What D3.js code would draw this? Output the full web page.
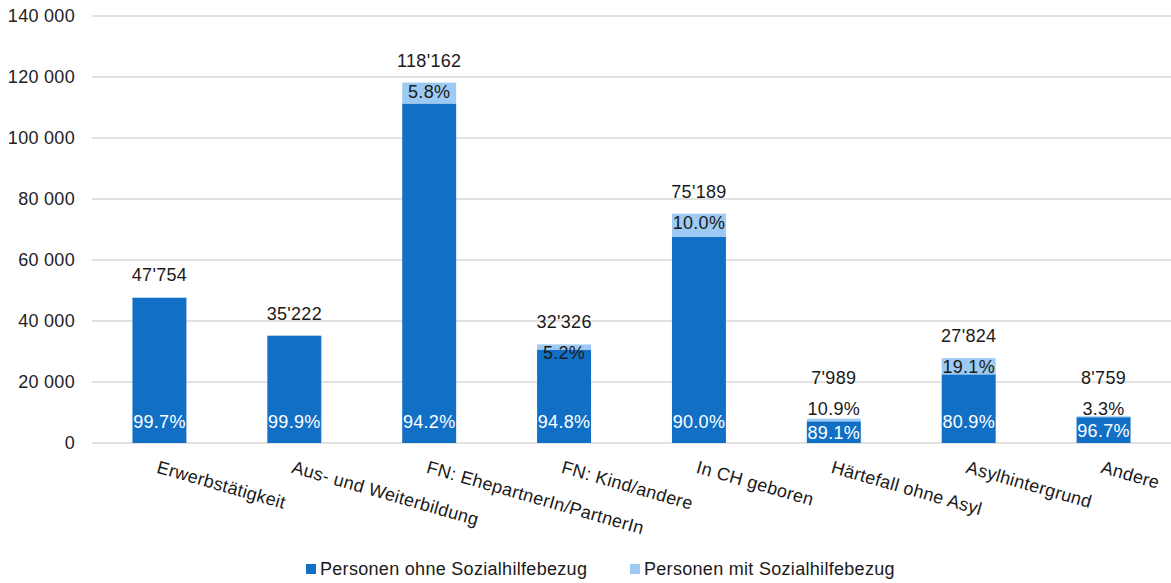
<!DOCTYPE html>
<html>
<head>
<meta charset="utf-8">
<script src="https://cdn.jsdelivr.net/npm/d3@7"></script>
<style>
  body { margin: 0; background: #fff; }
  text { font-family: "Liberation Sans", Arial, sans-serif; letter-spacing: 0.3px; }
</style>
</head>
<body>
<div id="chart"></div>
<script>
var categories = ["Erwerbstätigkeit", "Aus- und Weiterbildung", "FN: EhepartnerIn/PartnerIn",
    "FN: Kind/andere", "In CH geboren", "Härtefall ohne Asyl", "Asylhintergrund", "Andere"];
var totals = [47754, 35222, 118162, 32326, 75189, 7989, 27824, 8759];
var pctOhne = [99.7, 99.9, 94.2, 94.8, 90.0, 89.1, 80.9, 96.7];
var pctMit = [0.3, 0.1, 5.8, 5.2, 10.0, 10.9, 19.1, 3.3];
var showMit = [false, false, true, true, true, true, true, true];
var yTicks = [0, 20000, 40000, 60000, 80000, 100000, 120000, 140000];
var seriesNames = ["Personen ohne Sozialhilfebezug", "Personen mit Sozialhilfebezug"];
var colors = ["#1170c6", "#9dcaf3"];

var width = 1171, height = 583;
var fs = 18;

var svg = d3.select("#chart").append("svg").attr("width", width).attr("height", height);

var x = d3.scaleBand().domain(categories).range([92, 1171]).paddingInner(0.6).paddingOuter(0.3);
var y = d3.scaleLinear().domain([0, 140000]).range([443, 16]);

function fmtTick(v) { return d3.format(",")(v).replace(/,/g, " "); }
function fmtTotal(v) { return d3.format(",")(v).replace(/,/g, "'"); }

// gridlines + tick labels
svg.append("g").selectAll("line").data(yTicks).enter().append("line")
    .attr("x1", 92).attr("x2", width)
    .attr("y1", function(d) { return y(d); }).attr("y2", function(d) { return y(d); })
    .attr("stroke", "#d9d9d9").attr("stroke-width", 1.5);

svg.append("g").selectAll("text").data(yTicks).enter().append("text")
    .attr("x", 75).attr("y", function(d) { return y(d); }).attr("dy", "0.35em")
    .attr("text-anchor", "end").attr("font-size", fs).attr("fill", "#222")
    .text(fmtTick);

// stacked data
var rows = categories.map(function(c, i) {
    var ohne = totals[i] * pctOhne[i] / 100;
    return { cat: c, total: totals[i], ohne: ohne, mit: totals[i] - ohne, i: i };
});

var bars = svg.append("g");
bars.selectAll("rect.ohne").data(rows).enter().append("rect")
    .attr("x", function(d) { return x(d.cat); }).attr("width", x.bandwidth())
    .attr("y", function(d) { return y(d.ohne); })
    .attr("height", function(d) { return y(0) - y(d.ohne); })
    .attr("fill", colors[0]);
bars.selectAll("rect.mit").data(rows).enter().append("rect")
    .attr("x", function(d) { return x(d.cat); }).attr("width", x.bandwidth())
    .attr("y", function(d) { return y(d.total); })
    .attr("height", function(d) { return y(d.ohne) - y(d.total); })
    .attr("fill", colors[1]);

// labels
var cx = function(d) { return x(d.cat) + x.bandwidth() / 2; };
function ohneBase(d) { return Math.max(y(0) - 15, (y(d.ohne) + y(0)) / 2 + 7); }
function mitBase(d) { return Math.min(y(d.total) + 15, y(0) - 28); }
function totalBase(d) { return Math.min(y(d.total) - 16, mitBase(d) - 31); }

var labels = svg.append("g").attr("font-size", fs).attr("text-anchor", "middle");
labels.selectAll("text.ohne").data(rows).enter().append("text")
    .attr("x", cx).attr("y", ohneBase).attr("fill", "#fff")
    .text(function(d) { return pctOhne[d.i].toFixed(1) + "%"; });
labels.selectAll("text.mit").data(rows.filter(function(d) { return showMit[d.i]; })).enter().append("text")
    .attr("x", cx).attr("y", mitBase).attr("fill", "#1a1a1a")
    .text(function(d) { return pctMit[d.i].toFixed(1) + "%"; });
labels.selectAll("text.total").data(rows).enter().append("text")
    .attr("x", cx).attr("y", totalBase).attr("fill", "#1a1a1a")
    .text(function(d) { return fmtTotal(d.total); });

// category labels, rotated
svg.append("g").selectAll("text").data(categories).enter().append("text")
    .attr("transform", function(d) { return "translate(" + (x(d) + x.bandwidth() / 2) + ",460) rotate(16)"; })
    .attr("dy", "0.72em").attr("font-size", fs).attr("fill", "#1a1a1a")
    .text(function(d) { return d; });

// legend
var legendX = [306, 630];
var legend = svg.append("g");
seriesNames.forEach(function(name, i) {
    legend.append("rect").attr("x", legendX[i]).attr("y", 564).attr("width", 10).attr("height", 10).attr("fill", colors[i]);
    legend.append("text").attr("x", legendX[i] + 14).attr("y", 575).attr("font-size", fs).attr("fill", "#1a1a1a").text(name);
});
</script>
</body>
</html>
